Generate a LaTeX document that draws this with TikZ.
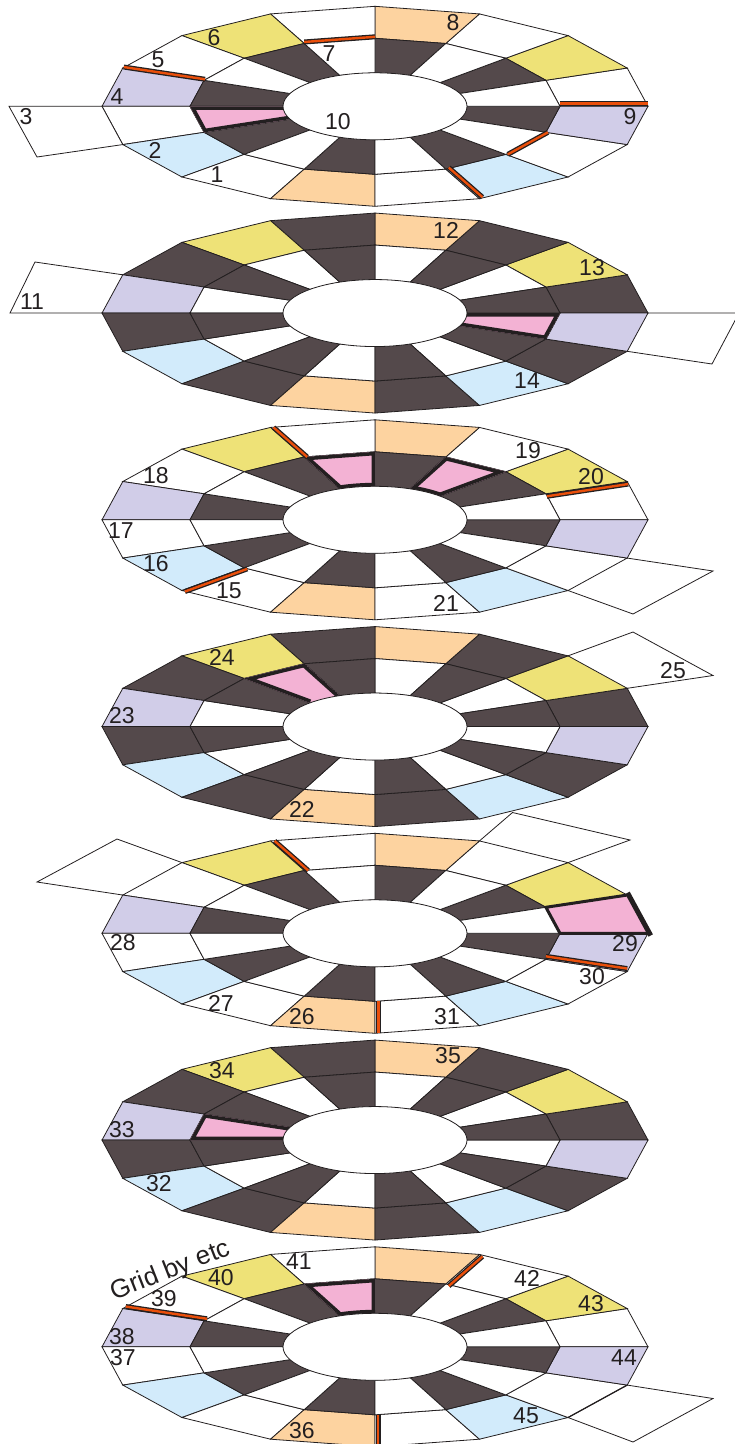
\documentclass[tikz,border=0pt]{standalone}
\usepackage{fontspec}
\setmainfont{Liberation Sans}
\usetikzlibrary{calc}
\definecolor{ringdark}{HTML}{54494B}
\definecolor{ringyellow}{HTML}{EEE277}
\definecolor{ringpeach}{HTML}{FDD3A0}
\definecolor{ringlilac}{HTML}{D1CDE8}
\definecolor{ringblue}{HTML}{D2EBFB}
\definecolor{ringpink}{HTML}{F3B2D4}
\definecolor{barorange}{HTML}{EA4F0B}
\definecolor{inkcol}{HTML}{231F20}

% #1 name, #2 centre y, #3 outer gap fill, #4 odd inner fill, #5 even inner fill
\newcommand{\ringdisc}[5]{%
  \foreach \k in {0,...,16} {
    \coordinate (#1o\k) at ({375+273*cos(\k*22.5)},{#2-100*sin(\k*22.5)});
    \coordinate (#1m\k) at ({375+185*cos(\k*22.5)},{#2-68*sin(\k*22.5)});
    \coordinate (#1i\k) at ({375+92*cos(\k*22.5)},{#2-33.5*sin(\k*22.5)});
  }
  \foreach \k/\col in {0/#3,1/ringyellow,2/#3,3/ringpeach,4/#3,5/ringyellow,6/#3,7/ringlilac,
                       8/#3,9/ringblue,10/#3,11/ringpeach,12/#3,13/ringblue,14/#3,15/ringlilac} {
    \pgfmathtruncatemacro{\nx}{\k+1}
    \draw[cell, fill=\col] (#1o\k) -- (#1o\nx) -- (#1m\nx) -- (#1m\k) -- cycle;
  }
  \foreach \k in {1,3,...,15} {
    \pgfmathtruncatemacro{\nx}{\k+1}
    \draw[cell, fill=#4] (#1m\k) -- (#1m\nx) -- (#1i\nx) -- (#1i\k) -- cycle;
  }
  \foreach \k in {0,2,...,14} {
    \pgfmathtruncatemacro{\nx}{\k+1}
    \draw[cell, fill=#5] (#1m\k) -- (#1m\nx) -- (#1i\nx) -- (#1i\k) -- cycle;
  }
}
% #1 name, #2 sector, #3 sector+1
\newcommand{\pinkcell}[3]{%
  \begin{scope}
    \clip (#1i#2) -- (#1m#2) -- (#1m#3) -- (#1i#3) -- cycle;
    \fill[ringpink] (#1i#2) -- (#1m#2) -- (#1m#3) -- (#1i#3) -- cycle;
    \draw[pinkedge] (#1i#2) -- (#1m#2) -- (#1m#3) -- (#1i#3);
  \end{scope}
}
% same, with the heavy line along the hole as well; #4 centre y
\newcommand{\pinkcellclosed}[4]{%
  \begin{scope}
    \clip (#1i#2) -- (#1m#2) -- (#1m#3) -- (#1i#3) -- cycle;
    \fill[ringpink] (#1i#2) -- (#1m#2) -- (#1m#3) -- (#1i#3) -- cycle;
    \draw[pinkedge] (#1i#2) -- (#1m#2) -- (#1m#3) -- (#1i#3);
    \draw[pinkedge] (375,#4) ellipse [x radius=92, y radius=33.5];
  \end{scope}
}
\newcommand{\ringhole}[1]{\draw[cell, fill=white] (375,#1) ellipse [x radius=92, y radius=33.5];}
\newcommand{\redbar}[3]{\draw[redline] ([shift={#3}]#1) -- ([shift={#3}]#2);}

\begin{document}
\begin{tikzpicture}[
  x=1pt, y=-1pt,
  cell/.style={draw=inkcol, line width=0.8pt, line join=miter},
  pinkedge/.style={draw=inkcol, line width=7pt, line join=miter},
  redline/.style={draw=inkcol, line width=1.3pt, double=barorange, double distance=2.4pt},
  flap/.style={cell, fill=white},
  lab/.style={font=\fontsize{23}{23}\selectfont, text=inkcol, inner sep=0pt}
]
\useasboundingbox (0,0) rectangle (735,1444);
\clip (0,0) rectangle (735,1444);

% disc 1
\ringdisc{da}{106.3}{white}{ringdark}{white}
\pinkcell{da}{8}{9}
\ringhole{106.3}
\redbar{dao7}{dam7}{(1,-1)}
\redbar{dam4}{dam5}{(0,-1.5)}
\redbar{dao0}{dam0}{(0,-3)}
\redbar{dam14}{dam15}{(2,0)}
\redbar{dao13}{dam13}{(3,-1.5)}
\draw[flap] (dao8) -- (9,106.3) -- (37,157) -- (dao9) -- cycle;

% disc 2
\ringdisc{db}{313.05}{ringdark}{white}{ringdark}
\pinkcell{db}{15}{16}
\ringhole{313.05}
\draw[flap, fill=none] (dbo7) -- (35,262) -- (10,313.05) -- (dbo8);
\draw[flap, fill=none] (dbo0) -- (739,313.05) -- (712,364) -- (dbo15);

% disc 3
\ringdisc{dc}{519.8}{white}{ringdark}{white}
\pinkcellclosed{dc}{4}{5}{519.8}
\pinkcellclosed{dc}{2}{3}{519.8}
\ringhole{519.8}
\redbar{dco5}{dcm5}{(3,0)}
\redbar{dco10}{dcm10}{(3,1)}
\redbar{dco1}{dcm1}{(1,2.5)}
\draw[flap, fill=none] (dco15) -- (713,571) -- (633,614) -- (dco14);

% disc 4
\ringdisc{dd}{726.55}{ringdark}{white}{ringdark}
\pinkcell{dd}{5}{6}
\ringhole{726.55}
\draw[flap, fill=none] (ddo1) -- (713,675.5) -- (633,632) -- (ddo2);

% disc 5
\ringdisc{de}{933.3}{white}{ringdark}{white}
\fill[ringpink] (deo0) -- (deo1) -- (dem1) -- (dem0) -- cycle;
\draw[inkcol, line width=3pt, line join=miter] (deo0) -- (dem0) -- (dem1) -- (deo1);
\draw[inkcol, line width=5pt, line cap=rect] ([shift={(1.5,0)}]deo1) -- ([shift={(1.5,0)}]deo0);
\ringhole{933.3}
\redbar{deo5}{dem5}{(4,0)}
\redbar{deo15}{dem15}{(0,-3)}
\redbar{deo12}{dem12}{(3.3,0)}
\draw[flap, fill=none] (deo6) -- (117,839) -- (37,882) -- (deo7);
\draw[flap, fill=none] (deo2) -- (630,840) -- (512.5,812.5) -- (deo3);

% disc 6
\ringdisc{df}{1140.05}{ringdark}{white}{ringdark}
\pinkcell{df}{7}{8}
\ringhole{1140.05}

% disc 7
\ringdisc{dg}{1346.8}{white}{ringdark}{white}
\pinkcellclosed{dg}{4}{5}{1346.8}
\ringhole{1346.8}
\redbar{dgo7}{dgm7}{(3,-2)}
\redbar{dgo3}{dgm3}{(3,2)}
\redbar{dgo12}{dgm12}{(3,0)}
\draw[flap, fill=none] (dgo15) -- (713,1398.5) -- (633,1442) -- (dgo14);
\draw[cell, line width=1.2pt] (dgo15) -- (dgo14);

\foreach \num/\lx/\ly in {1/217/175, 2/155/150, 3/26/117, 4/117/97, 5/158/60, 6/214/38, 7/329/54,
    8/453/23, 9/630/117, 10/338/122, 11/32/302, 12/446/230, 13/592/268, 14/527/381,
    15/229/591, 16/156/564, 17/121/531, 18/156/476, 19/528/451, 20/591/477, 21/446/603,
    22/302/809, 23/122/716, 24/222/657, 25/673/671, 26/302/1017, 27/221/1003, 28/123/943,
    29/625/944, 30/592/977, 31/447/1017, 32/159/1184, 33/122/1130, 34/222/1071, 35/448/1056,
    36/302/1431, 37/123/1358, 38/122/1337, 39/164/1299, 40/221/1278, 41/299/1262,
    42/527/1278, 43/591/1304, 44/624/1358, 45/526/1416} {
  \node[lab] (n\num) at (\lx,\ly) {\num};
}
\node[lab, font=\fontsize{26}{26}\selectfont, rotate=21.5] (gridnote) at (171,1271) {Grid by etc};
\end{tikzpicture}
\end{document}
